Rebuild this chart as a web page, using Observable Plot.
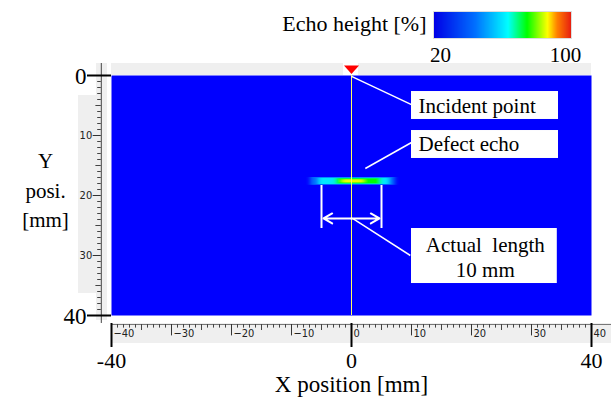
<!DOCTYPE html>
<html><head><meta charset="utf-8">
<script src="https://cdn.jsdelivr.net/npm/d3@7"></script>
<script src="https://cdn.jsdelivr.net/npm/@observablehq/plot@0.6"></script>
<style>
body{margin:0;background:#fff;}
#wrap{position:relative;width:611px;height:397px;overflow:hidden;}
#legend{position:absolute;left:428px;top:12px;}
svg text{white-space:pre;}
</style></head><body><div id="wrap"><div id="legend"></div></div>
<script>
// ---- data (mm / %) ----
const xDomain = [-40, 40];
const yDomain = [0, 40];
const bigXTicks = [-40, 0, 40];
const bigYTicks = [0, 40];
const xRulerLabels = [-40, -30, -20, -10, 0, 10, 20, 30, 40];
const yRulerLabels = [10, 20, 30];
const xRulerTicks = d3.range(-40, 41, 1);
const yRulerTicks = d3.range(0, 41, 1);
// defect echo (nested intensity zones)
const echoX1 = [-6.8, -5.4, -2.6, -1.4];
const echoX2 = [7.3, 6.3, 5.0, 2.0];
const echoY1 = [17.0, 17.12, 17.22, 17.38];
const echoY2 = [18.3, 18.18, 18.08, 17.92];
const echoHeight = [42, 60, 76, 88];
// colour bar
const colorDomain = [16, 104];
const colorStops = [0, 0.3, 0.54, 0.68, 0.83, 0.9, 1];
const colorList = ["#0000e6", "#0070ff", "#00ffff", "#00ff00", "#ffff00", "#ff8000", "#e82010"];
const legendTicks = [20, 100];
const legendTitle = "Echo height [%]";
// annotations
const calloutTexts = ["Incident point", "Defect echo", "Actual  length", "10 mm"];
const actualLength = 10; // mm
const incidentX = 0;
const yTitleLines = ["Y", "posi.", "[mm]"];
const xTitle = "X position [mm]";

// ---- layout (mm coordinates of decorations) ----
const serif = "'Liberation Serif', 'Times New Roman', serif";
const narrow = "'Liberation Sans Narrow', 'DejaVu Sans Condensed', sans-serif";
const echo = echoX1.map((x1, i) => ({x1, x2: echoX2[i], y1: echoY1[i], y2: echoY2[i], v: echoHeight[i]}));
const greyRects = [
  {x1: -40, x2: 40, y1: -2, y2: 0},
  {x1: -42.5, x2: -40.67, y1: -2, y2: 40.83},
  {x1: -45.5, x2: -40.67, y1: 3.33, y2: 36.33},
  {x1: -40, x2: 43.4, y1: 41.33, y2: 44.67}
];
const boxes = [
  {x1: 10, x2: 34.5, y1: 2.67, y2: 7.33},
  {x1: 10, x2: 34.5, y1: 9.17, y2: 13.83},
  {x1: 10, x2: 34.3, y1: 25.5, y2: 34.67}
];
const leftTexts = [
  {t: calloutTexts[0], x: 11.17, y: 5.1},
  {t: calloutTexts[1], x: 11.17, y: 11.5}
];
const centerTexts = [
  {t: calloutTexts[2], x: 22.3, y: 28.35},
  {t: calloutTexts[3], x: 22.3, y: 32.5}
];
const leaders = [
  {x1: incidentX, y1: 0.15, x2: 10, y2: 4.85},
  {x1: 2.3, y1: 15.5, x2: 10, y2: 11.17},
  {x1: 0.17, y1: 23.83, x2: 9.8, y2: 30}
];
const half = actualLength / 2;
const dimY = 23.83;

const jet = t => d3.scaleLinear().domain(colorStops).range(colorList).interpolate(d3.interpolateRgb).clamp(true)(t);

const triangleSymbol = {draw(ctx) { ctx.moveTo(-7.5, -4); ctx.lineTo(7.5, -4); ctx.lineTo(0, 4.5); ctx.closePath(); }};

const chart = Plot.plot({
  width: 611, height: 397,
  marginLeft: 111, marginRight: 20, marginTop: 75, marginBottom: 82,
  style: {background: "white", color: "black", fontFamily: serif},
  x: {domain: xDomain, range: [111, 591], axis: null},
  y: {domain: yDomain, range: [75, 315], axis: null},
  color: {type: "linear", domain: colorDomain, interpolate: jet},
  marks: [
    Plot.rect(greyRects, {x1: "x1", x2: "x2", y1: "y1", y2: "y2", fill: "#efefef"}),
    Plot.frame({fill: "#0000ff", stroke: "none"}),
    Plot.rect(echo, {x1: "x1", x2: "x2", y1: "y1", y2: "y2", fill: "v"}),
    Plot.ruleX([incidentX], {stroke: "#ffff60", strokeWidth: 1}),
    // incident marker
    Plot.rect([incidentX], {x1: d => d - 1.33, x2: d => d + 1.17, y1: -2, y2: 0, fill: "white"}),
    Plot.dot([incidentX], {x: d => d, y: -1.0, symbol: triangleSymbol, fill: "#ff0000", stroke: "none", r: 5}),
    // dimension
    Plot.ruleX([-half, half], {y1: 18.33, y2: 25.5, stroke: "white", strokeWidth: 2}),
    Plot.arrow([-half, half], {x1: 0, y1: dimY, x2: d => d, y2: dimY, stroke: "white", strokeWidth: 2, headLength: 16, headAngle: 60, insetEnd: 2, bend: 0}),
    // callouts
    Plot.link(leaders, {x1: "x1", y1: "y1", x2: "x2", y2: "y2", stroke: "white", strokeWidth: 1.5}),
    Plot.rect(boxes, {x1: "x1", x2: "x2", y1: "y1", y2: "y2", fill: "white"}),
    Plot.text(leftTexts, {x: "x", y: "y", text: "t", textAnchor: "start", fontSize: 21, fontFamily: serif, fill: "black"}),
    Plot.text(centerTexts, {x: "x", y: "y", text: "t", textAnchor: "middle", fontSize: 21, fontFamily: serif, fill: "black"}),
    // bottom ruler
    Plot.ruleY([41.5], {x1: -40, x2: 43.4, stroke: "#777", strokeWidth: 1}),
    Plot.ruleX(xRulerTicks.filter(d => d % 5 !== 0), {y1: 41.5, y2: 42.1, stroke: "#444", strokeWidth: 1}),
    Plot.ruleX(xRulerTicks.filter(d => d % 5 === 0 && d % 10 !== 0), {y1: 41.5, y2: 42.5, stroke: "#444", strokeWidth: 1}),
    Plot.ruleX(xRulerLabels, {y1: 41.5, y2: 43.4, stroke: "#333", strokeWidth: 1}),
    Plot.text(xRulerLabels, {x: d => d, y: 43.0, text: d => String(d).replace("-", "\u2212"), textAnchor: "start", dx: 2, fontSize: 11, fontFamily: narrow, fill: "#222"}),
    Plot.ruleX(bigXTicks, {y1: 41.33, y2: 45.33, stroke: "black", strokeWidth: 2}),
    Plot.text(bigXTicks, {x: d => d, y: 47.6, text: d => String(d), fontSize: 22, fontFamily: serif, fill: "black"}),
    Plot.text([xTitle], {x: 0, y: 51.5, text: d => d, fontSize: 23, fontFamily: serif, fill: "black"}),
    // left ruler
    Plot.ruleX([-41.7], {y1: -2, y2: 41.33, stroke: "#444", strokeWidth: 1}),
    Plot.ruleY(yRulerTicks.filter(d => d % 5 !== 0), {x1: -42.3, x2: -41.7, stroke: "#444", strokeWidth: 1}),
    Plot.ruleY(yRulerTicks.filter(d => d % 5 === 0 && d % 10 !== 0), {x1: -42.6, x2: -41.7, stroke: "#444", strokeWidth: 1}),
    Plot.ruleY(yRulerLabels, {x1: -43.05, x2: -41.7, stroke: "#333", strokeWidth: 1}),
    Plot.text(yRulerLabels, {x: -43.05, y: d => d, text: d => String(d), textAnchor: "end", dx: -1, fontSize: 11, fontFamily: narrow, fill: "#222"}),
    Plot.ruleY(bigYTicks, {x1: -44, x2: -40, stroke: "black", strokeWidth: 2}),
    Plot.text(bigYTicks, {x: -44, y: d => d, text: d => String(d), textAnchor: "end", dx: -1, dy: 1, fontSize: 23, fontFamily: serif, fill: "black"}),
    Plot.text(yTitleLines, {x: -51, y: (d, i) => [14.22, 19.22, 24.1][i], text: d => d, fontSize: 21, fontFamily: serif, fill: "black"}),
    // colour bar title
    Plot.text([legendTitle], {x: 12.5, y: -8.6, text: d => d, textAnchor: "end", fontSize: 22, fontFamily: serif, fill: "black"})
  ]
});

const svg = d3.select(chart);
const defs = svg.insert("defs", ":first-child");
defs.append("filter").attr("id", "echoBlur")
  .attr("x", "-50%").attr("y", "-300%").attr("width", "200%").attr("height", "700%")
  .append("feGaussianBlur").attr("stdDeviation", "2.2 0.7");
// the second rect mark is the defect echo
const rectGroups = svg.selectAll('g[aria-label="rect"]').nodes();
if (rectGroups[1]) d3.select(rectGroups[1]).attr("filter", "url(#echoBlur)");

document.getElementById("wrap").insertBefore(chart, document.getElementById("legend"));

const legend = chart.legend("color", {
  width: 149, height: 50,
  marginTop: 0, marginBottom: 24, marginLeft: 6, marginRight: 6,
  ticks: legendTicks, tickSize: 6, label: null,
  style: {background: "transparent", font: "21px 'Liberation Serif', serif", color: "black", overflow: "visible"}
});
d3.select(legend).selectAll(".tick line").remove();
d3.select(legend).select("image").attr("style", "outline:1px solid #ddd");
document.getElementById("legend").appendChild(legend);
</script></body></html>
